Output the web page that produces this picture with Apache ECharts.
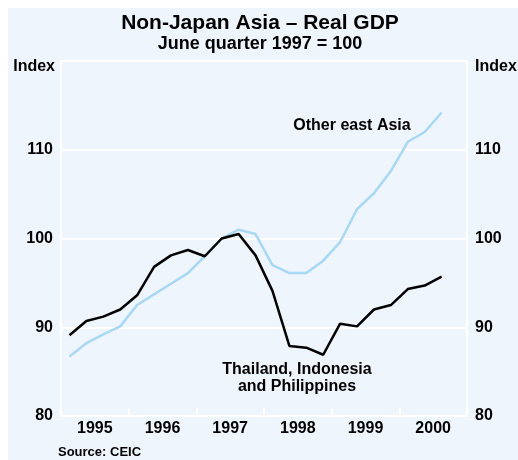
<!DOCTYPE html>
<html>
<head>
<meta charset="utf-8">
<script src="https://cdn.jsdelivr.net/npm/echarts@6/dist/echarts.min.js"></script>
<style>
html,body{margin:0;padding:0;background:#fff;}
#chart{width:518px;height:460px;}
</style>
</head>
<body>
<div id="chart"></div>
<script>
// Quarterly categories (Q1 1995 .. Q3 2000)
var quarters = ['1995Q1','1995Q2','1995Q3','1995Q4','1996Q1','1996Q2','1996Q3','1996Q4',
  '1997Q1','1997Q2','1997Q3','1997Q4','1998Q1','1998Q2','1998Q3','1998Q4',
  '1999Q1','1999Q2','1999Q3','1999Q4','2000Q1','2000Q2','2000Q3'];
var thaiIndoPhil = [89.1, 90.7, 91.2, 92.0, 93.6, 96.8, 98.1, 98.7, 98.0, 100.0, 100.5, 98.1,
  94.1, 87.9, 87.7, 86.9, 90.4, 90.1, 92.0, 92.5, 94.3, 94.7, 95.7];
var otherEastAsia = [86.7, 88.2, 89.2, 90.1, 92.5, 93.7, 94.9, 96.1, 98.0, 100.0, 101.0, 100.5,
  97.0, 96.1, 96.1, 97.5, 99.6, 103.3, 105.1, 107.6, 110.9, 112.0, 114.2];
var yearTicks = [1996, 1997, 1998, 1999, 2000];
var yearLabels = [1995.5, 1996.5, 1997.5, 1998.5, 1999.5, 2000.5];

function qx(q) {
  var y = parseInt(q.slice(0, 4), 10);
  var n = parseInt(q.slice(5), 10);
  return y + (n - 0.5) / 4;
}
function pairs(vals) {
  return vals.map(function (v, i) { return [qx(quarters[i]), v]; });
}

var chart = echarts.init(document.getElementById('chart'), null, {renderer: 'canvas'});
var FONT = '"Liberation Sans", Arial, Helvetica, sans-serif';
var yLabel = {
  fontFamily: FONT, fontWeight: 'bold', fontSize: 16, color: '#000', margin: 8,
  formatter: function (v) { return v === 120 ? '' : String(v); }
};

chart.setOption({
  backgroundColor: '#fff',
  animation: false,
  graphic: [
    {type: 'rect', shape: {x: 8, y: 8, width: 510, height: 452}, style: {fill: '#EEF5FC'}, z: -10, silent: true},
    {type: 'text', x: 260, y: 23, style: {text: 'Non-Japan Asia – Real GDP', font: 'bold 21px ' + FONT, fill: '#000', align: 'center', verticalAlign: 'middle'}},
    {type: 'text', x: 260, y: 44, style: {text: 'June quarter 1997 = 100', font: 'bold 18px ' + FONT, fill: '#000', align: 'center', verticalAlign: 'middle'}},
    {type: 'text', x: 55, y: 67, style: {text: 'Index', font: 'bold 16px ' + FONT, fill: '#000', align: 'right', verticalAlign: 'middle'}},
    {type: 'text', x: 475, y: 67, style: {text: 'Index', font: 'bold 16px ' + FONT, fill: '#000', align: 'left', verticalAlign: 'middle'}},
    {type: 'text', x: 352, y: 126, style: {text: 'Other east Asia', font: 'bold 16px ' + FONT, fill: '#000', align: 'center', verticalAlign: 'middle'}},
    {type: 'text', x: 297, y: 378, style: {text: 'Thailand, Indonesia\nand Philippines', font: 'bold 16px ' + FONT, lineHeight: 17, fill: '#000', align: 'center', verticalAlign: 'middle'}},
    {type: 'text', x: 58, y: 452, style: {text: 'Source: CEIC', font: 'bold 13px ' + FONT, fill: '#000', align: 'left', verticalAlign: 'middle'}}
  ],
  grid: {left: 61, right: 51, top: 61, bottom: 44, show: true, borderColor: '#fff', borderWidth: 2, backgroundColor: 'transparent'},
  xAxis: {
    type: 'value', min: 1995, max: 2001,
    splitLine: {show: false},
    axisLine: {show: true, lineStyle: {color: '#fff', width: 2}},
    axisTick: {show: true, inside: true, length: 8, lineStyle: {color: '#fff', width: 2}, customValues: yearTicks},
    axisLabel: {customValues: yearLabels, fontFamily: FONT, fontWeight: 'bold', fontSize: 16, color: '#000', margin: 5,
      formatter: function (v) { return String(Math.floor(v)); }}
  },
  yAxis: [
    {type: 'value', min: 80, max: 120, interval: 10, position: 'left',
      axisLine: {show: false}, axisTick: {show: false},
      splitLine: {show: true, lineStyle: {color: '#fff', width: 2}},
      axisLabel: yLabel},
    {type: 'value', min: 80, max: 120, interval: 10, position: 'right',
      axisLine: {show: false}, axisTick: {show: false},
      splitLine: {show: false},
      axisLabel: yLabel}
  ],
  series: [
    {name: 'Other east Asia', type: 'line', data: pairs(otherEastAsia), symbol: 'none',
      lineStyle: {color: '#A8D8F4', width: 2.5}, z: 3},
    {name: 'Thailand, Indonesia and Philippines', type: 'line', data: pairs(thaiIndoPhil), symbol: 'none',
      lineStyle: {color: '#000', width: 2.5}, z: 4}
  ]
});
</script>
</body>
</html>
